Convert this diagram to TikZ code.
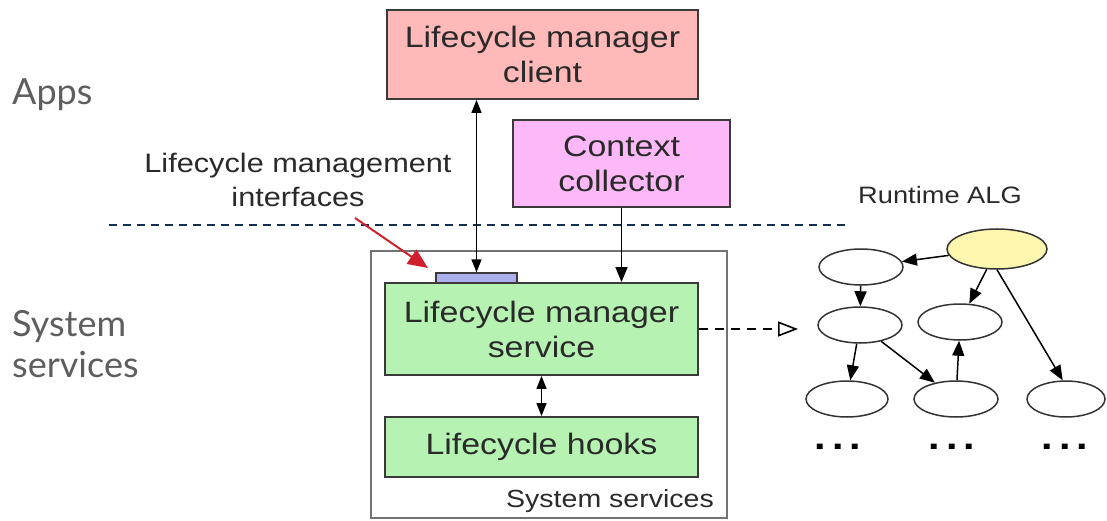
\documentclass[tikz,border=0pt]{standalone}
\usepackage{fontspec}
\setmainfont[FakeStretch=1.15]{Liberation Sans}
\newfontfamily\sidefont{Lato}
\usetikzlibrary{arrows.meta,shapes.geometric}

\definecolor{clientpink}{HTML}{FFB9B9}
\definecolor{ctxpink}{HTML}{FDB9F7}
\definecolor{svcgreen}{HTML}{B6F3B2}
\definecolor{ifblue}{HTML}{AEB0EE}
\definecolor{algyellow}{HTML}{FCF6AE}
\definecolor{boxline}{HTML}{3A3A3A}
\definecolor{navy}{HTML}{10304F}
\definecolor{sidegray}{HTML}{5E5E5E}
\definecolor{pointerred}{HTML}{D0202E}
\definecolor{labeltext}{HTML}{2A2A2A}

\tikzset{
  block/.style={draw=boxline, line width=1.8pt, rectangle, inner sep=0pt,
    align=center, text=labeltext, font=\fontsize{29.5}{35}\selectfont},
  algnode/.style={draw=black!80, line width=1.5pt, ellipse, inner sep=0pt,
    minimum width=84pt, minimum height=36pt},
  link/.style={line width=1.5pt, -{Triangle[length=15pt,width=12pt]}},
  bilink/.style={line width=1.5pt, {Triangle[length=13pt,width=10pt]}-{Triangle[length=13pt,width=10pt]}},
  sidelabel/.style={font=\sidefont\fontsize{36}{41}\selectfont, text=sidegray,
    anchor=west, align=left, inner sep=0pt},
  note/.style={font=\fontsize{26.7}{34}\selectfont, text=labeltext, align=center, inner sep=0pt},
  dots/.style={font=\bfseries\fontsize{36}{36}\selectfont, inner sep=0pt}
}

\begin{document}
\begin{tikzpicture}[x=1pt,y=-1pt]
  \useasboundingbox (0,0) rectangle (1107,521);

  % layer labels
  \node[sidelabel] (apps) at (12,95) {Apps};
  \node[sidelabel] (sys) at (12,344) {System\\services};

  % layer separator
  \draw[navy, line width=2pt, dash pattern=on 8pt off 6pt] (109,225) -- (846,225);

  % system services container
  \node[draw=black!55, line width=1.4pt, rectangle, minimum width=356pt, minimum height=267pt, inner sep=0pt]
    (outer) at (549,384.5) {};
  \node[font=\fontsize{24.8}{30}\selectfont, text=labeltext, anchor=base east, inner sep=0pt]
    (outerlabel) at (714,507) {System services};

  % app-side components
  \node[block, fill=clientpink, minimum width=311pt, minimum height=89pt] (client) at (542.5,54.5)
    {Lifecycle manager\\client};
  \node[block, fill=ctxpink, minimum width=217pt, minimum height=87pt] (context) at (621.5,163.5)
    {Context\\collector};

  % system-side components
  \node[block, fill=svcgreen, minimum width=313pt, minimum height=92pt] (service) at (541.5,329)
    {Lifecycle manager\\service};
  \node[block, fill=svcgreen, minimum width=313pt, minimum height=60pt] (hooks) at (541.5,447)
    {Lifecycle hooks};
  \node[draw=boxline, line width=1.4pt, fill=ifblue, rectangle, inner sep=0pt,
    minimum width=81pt, minimum height=10pt] (iface) at (476.5,278) {};

  % interface annotation
  \node[note] (ifnote) at (298,180) {Lifecycle management\\interfaces};
  \coordinate (ifpointer) at (355,218);
  \draw[pointerred, line width=2pt, -{Triangle[length=20pt,width=17pt]}] (ifpointer) -- (428,268);

  % connectors between components
  \draw[bilink] (client.south -| iface.north) -- (iface.north);
  \draw[link] (context.south) -- (context.south |- service.north);
  \draw[bilink] (service.south) -- (hooks.north);

  % runtime ALG
  \node[font=\fontsize{23.7}{30}\selectfont, text=labeltext, inner sep=0pt] (algtitle) at (940,195) {Runtime ALG};
  \node[algnode, fill=algyellow, minimum width=100pt, minimum height=40pt] (root) at (997,249) {};
  \node[algnode] (a) at (861,267) {};
  \node[algnode] (b) at (860,325) {};
  \node[algnode] (c) at (960,322) {};
  \node[algnode, minimum width=82pt] (d) at (847,399) {};
  \node[algnode] (e) at (956,399) {};
  \node[algnode, minimum width=78pt] (f) at (1066,399) {};

  \draw[link] (root) -- (a);
  \draw[link] (a) -- (b);
  \draw[link] (root) -- (c);
  \draw[link] (root.south) -- (f.100);
  \draw[link] (b) -- (d);
  \draw[link] (b) -- (e);
  \draw[link] (e) -- (c);

  \node[dots] (dots1) at (838,447) {.\hspace{6pt}.\hspace{6pt}.};
  \node[dots] (dots2) at (952,447) {.\hspace{6pt}.\hspace{6pt}.};
  \node[dots] (dots3) at (1065,447) {.\hspace{6pt}.\hspace{6pt}.};

  % service to runtime graph
  \coordinate (algin) at (798,329);
  \draw[line width=1.6pt, dash pattern=on 9pt off 7pt, -{Triangle[open,length=20pt,width=15pt]}]
    (service.east) -- (algin);
\end{tikzpicture}
\end{document}
